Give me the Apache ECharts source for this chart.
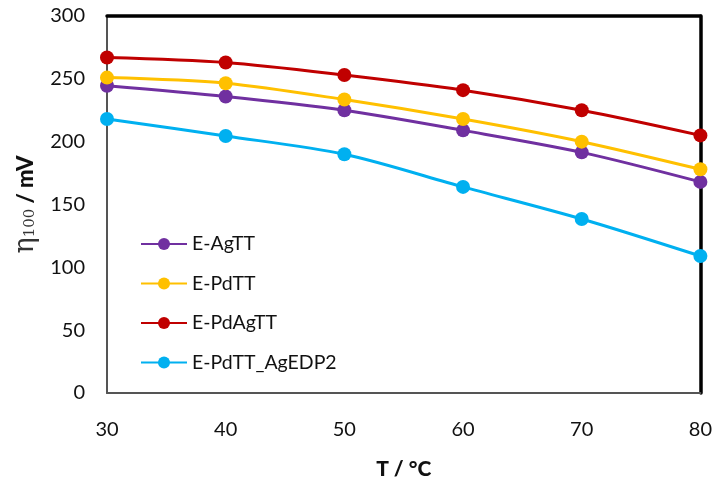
<!DOCTYPE html>
<html><head><meta charset="utf-8">
<script src="https://cdn.jsdelivr.net/npm/echarts@6/dist/echarts.min.js"></script>
<style>html,body{margin:0;padding:0;background:#fff}#c{width:715px;height:487px}</style>
</head><body><div id="c"></div>
<script>
const temps = [30, 40, 50, 60, 70, 80];
const seriesNames = ['E-AgTT', 'E-PdTT', 'E-PdAgTT', 'E-PdTT_AgEDP2'];
const agTT = [244.5, 236, 225, 209, 191.5, 168];
const pdTT = [251, 246.5, 233.5, 218, 200, 178];
const pdAgTT = [267, 263, 253, 241, 225, 205];
const pdTTAgEDP2 = [218, 204.5, 190, 164, 138.5, 109];
const colors = ['#7030A0', '#FFC000', '#C00000', '#00B0F0'];
const allValues = [agTT, pdTT, pdAgTT, pdTTAgEDP2];

const font = 'Lato, "Open Sans", sans-serif';
const chart = echarts.init(document.getElementById('c'));
chart.setOption({
  animation: false,
  grid: {left: 107, top: 16, right: 14, bottom: 94},
  legend: {
    orient: 'vertical', left: 135, top: 229, itemGap: 19.5,
    itemWidth: 46, itemHeight: 15,
    textStyle: {fontFamily: font, fontSize: 19.5, color: '#111'},
    data: seriesNames
  },
  xAxis: [{
    type: 'value', min: 30, max: 80, interval: 10,
    axisLine: {show: true, onZero: false, lineStyle: {color: '#555', width: 2}},
    axisTick: {show: false}, splitLine: {show: false},
    axisLabel: {fontFamily: font, fontSize: 20, color: '#111', margin: 27},
    name: 'T / °C', nameLocation: 'middle', nameGap: 66,
    nameTextStyle: {fontFamily: font, fontSize: 21, fontWeight: 900, color: '#111'}
  }, {
    type: 'value', position: 'top', min: 30, max: 80, interval: 10,
    axisLine: {show: true, onZero: false, lineStyle: {color: '#000', width: 3.5}},
    axisTick: {show: false}, axisLabel: {show: false}, splitLine: {show: false}
  }],
  yAxis: [{
    type: 'value', min: 0, max: 300, interval: 50,
    axisLine: {show: true, onZero: false, lineStyle: {color: '#555', width: 2}},
    axisTick: {show: false}, splitLine: {show: false},
    axisLabel: {fontFamily: font, fontSize: 20, color: '#111', margin: 22},
    name: '{e|η}{s|100}{b| / mV}', nameLocation: 'middle', nameGap: 68, nameRotate: 90,
    nameTextStyle: {
      rich: {
        e: {fontFamily: '"DejaVu Serif", serif', fontSize: 27, color: '#333'},
        s: {fontFamily: '"DejaVu Serif", serif', fontSize: 15, color: '#333', padding: [10, 0, 0, 0]},
        b: {fontFamily: font, fontSize: 22, fontWeight: 900, color: '#111'}
      }
    }
  }, {
    type: 'value', position: 'right', min: 0, max: 300, interval: 50,
    axisLine: {show: true, onZero: false, lineStyle: {color: '#000', width: 3.5}},
    axisTick: {show: false}, axisLabel: {show: false}, splitLine: {show: false}
  }],
  series: seriesNames.map((n, i) => ({
    name: n, type: 'line', smooth: 0.3,
    data: temps.map((t, j) => [t, allValues[i][j]]),
    symbol: 'circle', symbolSize: 14,
    lineStyle: {color: colors[i], width: 3},
    itemStyle: {color: colors[i]},
    z: 5
  }))
});
</script></body></html>
